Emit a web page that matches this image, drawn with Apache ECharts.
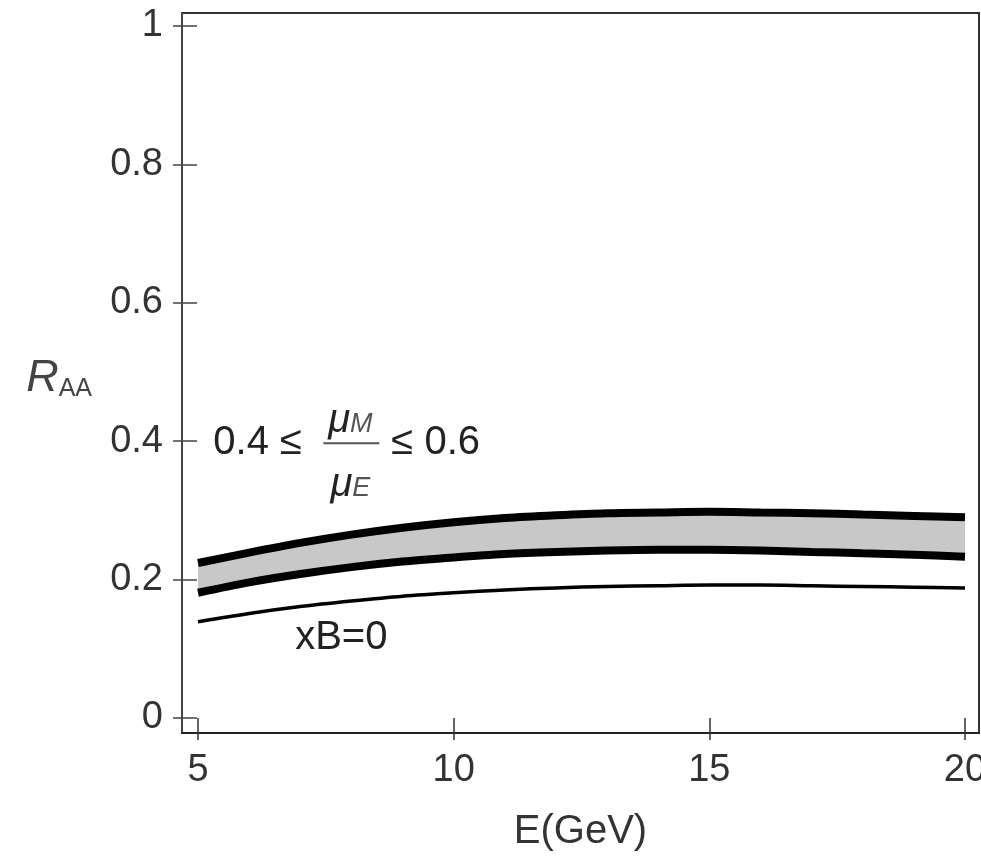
<!DOCTYPE html>
<html><head><meta charset="utf-8">
<script src="https://cdn.jsdelivr.net/npm/echarts@6/dist/echarts.min.js"></script>
<style>html,body{margin:0;padding:0;background:#fff}#c{width:981px;height:856px}</style>
</head><body><div id="c"></div>
<script>
const energies  = [5, 6, 7, 8, 9, 10, 11, 12, 13, 14, 15, 16, 17, 18, 19, 20];
const upperBand = [0.224, 0.239, 0.253, 0.265, 0.275, 0.283, 0.289, 0.293, 0.296, 0.297, 0.298, 0.297, 0.296, 0.294, 0.292, 0.290];
const lowerBand = [0.181, 0.196, 0.208, 0.218, 0.226, 0.232, 0.237, 0.240, 0.242, 0.243, 0.243, 0.242, 0.240, 0.238, 0.236, 0.233];
const xB0Curve  = [0.139, 0.151, 0.161, 0.169, 0.176, 0.181, 0.185, 0.188, 0.190, 0.191, 0.192, 0.192, 0.191, 0.190, 0.189, 0.188];
const xTicks = [5, 10, 15, 20];
const yTicks = [0, 0.2, 0.4, 0.6, 0.8, 1];
const yTickLabels = ['0', '0.2', '0.4', '0.6', '0.8', '1'];

const pairs = arr => energies.map((e, i) => [e, arr[i]]);

const FONT = '"Liberation Sans", Arial, sans-serif';
const TXT = '#333';
const XMIN = 4.687, XMAX = 20.274, YMIN = -0.0217, YMAX = 1.0188;

const chart = echarts.init(document.getElementById('c'), null, {renderer: 'canvas'});
const option = {
  animation: false,
  backgroundColor: '#fff',
  grid: {left: 182, right: 2, top: 13, bottom: 123, outerBoundsMode: 'none', containLabel: false,
         show: true, borderColor: '#333', borderWidth: 2, backgroundColor: 'transparent'},
  xAxis: [
    {type: 'value', min: XMIN, max: XMAX, position: 'bottom',
     axisLine: {show: true, onZero: false, lineStyle: {color: '#222', width: 2}},
     axisTick: {show: true, inside: false, length: 7, customValues: xTicks, lineStyle: {color: '#333', width: 1.5}},
     axisLabel: {show: true, customValues: xTicks, fontSize: 38, fontFamily: FONT, color: TXT, margin: 19,
                 hideOverlap: false, showMinLabel: true, showMaxLabel: true},
     splitLine: {show: false},
     name: 'E(GeV)', nameLocation: 'middle', nameGap: 79,
     nameTextStyle: {fontSize: 40, fontFamily: FONT, color: TXT}},
    {type: 'value', min: XMIN, max: XMAX, position: 'bottom',
     axisLine: {show: false, onZero: false},
     axisTick: {show: true, inside: true, length: 15, customValues: xTicks, lineStyle: {color: '#333', width: 1.5}},
     axisLabel: {show: false}, splitLine: {show: false}}
  ],
  yAxis: [
    {type: 'value', min: YMIN, max: YMAX, position: 'left',
     axisLine: {show: true, onZero: false, lineStyle: {color: '#444', width: 2}},
     axisTick: {show: true, inside: false, length: 9, customValues: yTicks, lineStyle: {color: '#444', width: 1.5}},
     axisLabel: {show: true, customValues: yTicks, fontSize: 38, fontFamily: FONT, color: TXT, margin: 19,
       formatter: v => { const i = yTicks.findIndex(t => Math.abs(t - v) < 1e-6); return i >= 0 ? yTickLabels[i] : ''; }},
     splitLine: {show: false},
     name: '{r|R}{s|AA}', nameLocation: 'middle', nameRotate: 0, nameGap: 90,
     nameTextStyle: {padding: [10, 0, 0, 0], rich: {
       r: {fontSize: 45, fontStyle: 'italic', fontFamily: FONT, color: '#444'},
       s: {fontSize: 25, fontFamily: FONT, color: '#444', padding: [22, 0, 0, 0]}
     }}},
    {type: 'value', min: YMIN, max: YMAX, position: 'left',
     axisLine: {show: false, onZero: false},
     axisTick: {show: true, inside: true, length: 15, customValues: yTicks, lineStyle: {color: '#444', width: 1.5}},
     axisLabel: {show: false}, splitLine: {show: false}}
  ],
  series: [
    {name: 'bandUpperFill', type: 'line', data: pairs(upperBand), symbol: 'none', smooth: 0.3,
     lineStyle: {width: 0, opacity: 0}, areaStyle: {color: '#c8c8c8', opacity: 1, origin: 'start'}, silent: true, z: -2},
    {name: 'bandLowerMask', type: 'line', data: pairs(lowerBand), symbol: 'none', smooth: 0.3,
     lineStyle: {width: 0, opacity: 0}, areaStyle: {color: '#ffffff', opacity: 1, origin: 'start'}, silent: true, z: -1},
    {name: 'upper', type: 'line', data: pairs(upperBand), symbol: 'none', smooth: 0.3,
     lineStyle: {color: '#000', width: 8, cap: 'butt'}, z: 3},
    {name: 'lower', type: 'line', data: pairs(lowerBand), symbol: 'none', smooth: 0.3,
     lineStyle: {color: '#000', width: 8, cap: 'butt'}, z: 3},
    {name: 'xB=0', type: 'line', data: pairs(xB0Curve), symbol: 'none', smooth: 0.3,
     lineStyle: {color: '#000', width: 3.5, cap: 'butt'}, z: 3}
  ]
};
chart.setOption(option);

// annotations anchored to data coordinates
const a = chart.convertToPixel({xAxisIndex: 0, yAxisIndex: 0}, [5.3, 0.4]);
const b = chart.convertToPixel({xAxisIndex: 0, yAxisIndex: 0}, [6.9, 0.115]);
const ax = a[0], ay = a[1];
const ANN = '#222';
chart.setOption({
  graphic: [
    {type: 'text', left: ax, top: ay - 18, z: 10,
     style: {text: '0.4 \u2264', fontSize: 40, fontFamily: FONT, fill: ANN}},
    {type: 'line', z: 10, shape: {x1: ax + 110, y1: ay + 2, x2: ax + 166, y2: ay + 2},
     style: {stroke: '#555', lineWidth: 2}},
    {type: 'text', x: ax + 137, y: ay - 20, z: 10,
     style: {text: '{m|\u03bc}{s|M}', align: 'center', verticalAlign: 'middle',
       rich: {m: {fontSize: 40, fontStyle: 'italic', fontFamily: FONT, fill: ANN},
              s: {fontSize: 27, fontStyle: 'italic', fontFamily: FONT, fill: '#555', padding: [6, 0, 0, 0]}}}},
    {type: 'text', x: ax + 137, y: ay + 44, z: 10,
     style: {text: '{m|\u03bc}{s|E}', align: 'center', verticalAlign: 'middle',
       rich: {m: {fontSize: 40, fontStyle: 'italic', fontFamily: FONT, fill: ANN},
              s: {fontSize: 27, fontStyle: 'italic', fontFamily: FONT, fill: '#555', padding: [6, 0, 0, 0]}}}},
    {type: 'text', left: ax + 178, top: ay - 18, z: 10,
     style: {text: '\u2264 0.6', fontSize: 40, fontFamily: FONT, fill: ANN}},
    {type: 'text', left: b[0], top: b[1] - 20, z: 10,
     style: {text: 'xB=0', fontSize: 40, fontFamily: FONT, fill: ANN}}
  ]
});
</script>
</body></html>
